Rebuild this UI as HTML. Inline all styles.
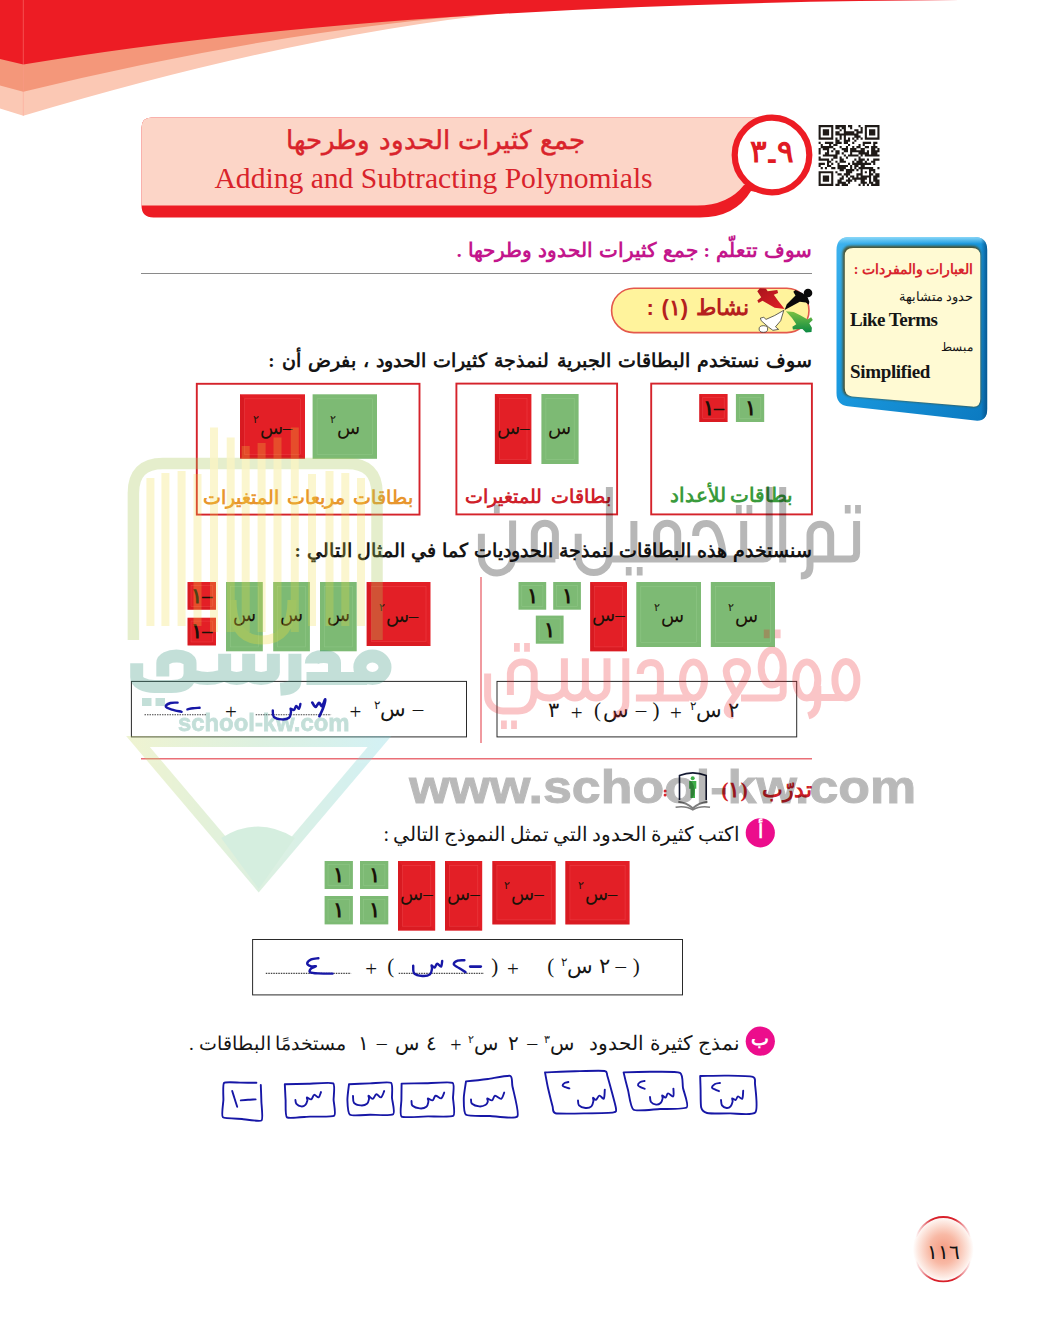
<!DOCTYPE html>
<html lang="ar">
<head>
<meta charset="utf-8">
<title>٩-٣ جمع كثيرات الحدود وطرحها</title>
<style>
html,body{margin:0;padding:0;background:#fff;}
body{width:1039px;height:1323px;overflow:hidden;position:relative;font-family:"Liberation Serif",serif;color:#151515;}
#page{position:absolute;left:0;top:0;width:1039px;height:1323px;overflow:hidden;background:#fff;}
svg.layer{position:absolute;left:0;top:0;width:1039px;height:1323px;overflow:visible;}
.t{position:absolute;white-space:nowrap;line-height:1;direction:rtl;unicode-bidi:isolate;}
.ltr{direction:ltr;}
.b{font-weight:bold;}
.sans{font-family:"Liberation Sans",sans-serif;}
.tl{position:absolute;white-space:nowrap;line-height:1;direction:rtl;text-align:center;font-size:19px;color:#1a1208;}
.tl sup{font-size:11px;vertical-align:baseline;position:relative;top:-11px;margin-right:1px;}
.k{position:absolute;white-space:nowrap;line-height:1;direction:rtl;text-align:center;width:60px;margin-left:-30px;font-size:21px;}
.k sup,.t sup{font-size:55%;vertical-align:baseline;position:relative;top:-0.62em;}
.hw path{fill:none;stroke:#1717a6;stroke-width:1.9;stroke-linecap:round;stroke-linejoin:round;}
</style>
</head>
<body>
<div id="page">

<!-- ===== background graphics ===== -->
<svg class="layer" id="gfx" viewBox="0 0 1039 1323">
  <defs>
    <linearGradient id="bluev" x1="0" y1="0" x2="1" y2="1">
      <stop offset="0" stop-color="#3fb3ee"/><stop offset=".35" stop-color="#1c9de2"/><stop offset="1" stop-color="#0b79c0"/>
    </linearGradient>
    <radialGradient id="pgn" cx=".5" cy=".5" r=".5">
      <stop offset="0" stop-color="#f59c83"/><stop offset=".45" stop-color="#f8b9a5"/><stop offset=".85" stop-color="#fdeae3"/><stop offset="1" stop-color="#ffffff"/>
    </radialGradient>
    <linearGradient id="arcfade" x1="0" y1="0" x2="1" y2="0">
      <stop offset="0" stop-color="#d8202a" stop-opacity="0"/><stop offset=".3" stop-color="#d8202a" stop-opacity="1"/><stop offset=".7" stop-color="#d8202a" stop-opacity="1"/><stop offset="1" stop-color="#d8202a" stop-opacity="0"/>
    </linearGradient>
    <linearGradient id="redfig" x1="0" y1="0" x2="1" y2="1"><stop offset="0" stop-color="#a8141c"/><stop offset="1" stop-color="#e21f26"/></linearGradient>
    <linearGradient id="grnfig" x1="0" y1="0" x2="0" y2="1"><stop offset="0" stop-color="#7cc242"/><stop offset="1" stop-color="#0c8a43"/></linearGradient>
  </defs>
  <!-- top banner -->
  <path d="M0,0 H540 L520,11.5 Q300,33 23.3,115.8 L0,108.5 Z" fill="#fbc8b4"/>
  <path d="M0,0 H520 L510,12.5 Q290,27 23.3,91.7 L0,85.5 Z" fill="#f4977a"/>
  <path d="M0,0 H960 Q390,3 23.3,64.6 L0,59 Z" fill="#ed1c24"/>
  <path d="M23.3,0 V115.8" stroke="#ff9a8e" stroke-width="0.7" opacity="0.6" fill="none"/>

  <!-- title bar -->
  <path d="M151.5,117.5 H772 V195 L751,191 Q735,217.5 700,217.5 H153.5 Q141.5,217.5 141.5,205.5 V127.5 Q141.5,117.5 151.5,117.5 Z" fill="#ed1c24"/>
  <path d="M151.5,117.5 H772 V185 L744,185 Q728,205.5 697,205.5 H141.5 V127.5 Q141.5,117.5 151.5,117.5 Z" fill="#fcd5c7"/>
  <circle cx="772" cy="155" r="37.3" fill="#fff" stroke="#ed1c24" stroke-width="6.2"/>
  <!-- QR code -->
  <path d="M818.6,125.0h14.7v2.15h-14.7zM835.4,125.0h10.5v2.15h-10.5zM848.0,125.0h4.2v2.15h-4.2zM858.5,125.0h2.1v2.15h-2.1zM864.8,125.0h14.7v2.15h-14.7zM818.6,127.1h2.1v2.15h-2.1zM831.2,127.1h2.1v2.15h-2.1zM835.4,127.1h4.2v2.15h-4.2zM841.7,127.1h4.2v2.15h-4.2zM850.1,127.1h2.1v2.15h-2.1zM860.6,127.1h2.1v2.15h-2.1zM864.8,127.1h2.1v2.15h-2.1zM877.4,127.1h2.1v2.15h-2.1zM818.6,129.2h2.1v2.15h-2.1zM822.8,129.2h6.3v2.15h-6.3zM831.2,129.2h2.1v2.15h-2.1zM839.6,129.2h2.1v2.15h-2.1zM843.8,129.2h2.1v2.15h-2.1zM854.3,129.2h4.2v2.15h-4.2zM860.6,129.2h2.1v2.15h-2.1zM864.8,129.2h2.1v2.15h-2.1zM869.0,129.2h6.3v2.15h-6.3zM877.4,129.2h2.1v2.15h-2.1zM818.6,131.3h2.1v2.15h-2.1zM822.8,131.3h6.3v2.15h-6.3zM831.2,131.3h2.1v2.15h-2.1zM835.4,131.3h4.2v2.15h-4.2zM843.8,131.3h10.5v2.15h-10.5zM856.4,131.3h6.3v2.15h-6.3zM864.8,131.3h2.1v2.15h-2.1zM869.0,131.3h6.3v2.15h-6.3zM877.4,131.3h2.1v2.15h-2.1zM818.6,133.4h2.1v2.15h-2.1zM822.8,133.4h6.3v2.15h-6.3zM831.2,133.4h2.1v2.15h-2.1zM835.4,133.4h23.1v2.15h-23.1zM864.8,133.4h2.1v2.15h-2.1zM869.0,133.4h6.3v2.15h-6.3zM877.4,133.4h2.1v2.15h-2.1zM818.6,135.5h2.1v2.15h-2.1zM831.2,135.5h2.1v2.15h-2.1zM839.6,135.5h2.1v2.15h-2.1zM843.8,135.5h2.1v2.15h-2.1zM854.3,135.5h6.3v2.15h-6.3zM864.8,135.5h2.1v2.15h-2.1zM877.4,135.5h2.1v2.15h-2.1zM818.6,137.6h14.7v2.15h-14.7zM835.4,137.6h2.1v2.15h-2.1zM839.6,137.6h2.1v2.15h-2.1zM843.8,137.6h2.1v2.15h-2.1zM848.0,137.6h2.1v2.15h-2.1zM852.2,137.6h2.1v2.15h-2.1zM856.4,137.6h2.1v2.15h-2.1zM860.6,137.6h2.1v2.15h-2.1zM864.8,137.6h14.7v2.15h-14.7zM835.4,139.7h4.2v2.15h-4.2zM843.8,139.7h6.3v2.15h-6.3zM854.3,139.7h2.1v2.15h-2.1zM818.6,141.8h2.1v2.15h-2.1zM824.9,141.8h8.4v2.15h-8.4zM835.4,141.8h6.3v2.15h-6.3zM843.8,141.8h4.2v2.15h-4.2zM852.2,141.8h2.1v2.15h-2.1zM862.7,141.8h8.4v2.15h-8.4zM873.2,141.8h4.2v2.15h-4.2zM820.7,143.9h2.1v2.15h-2.1zM829.1,143.9h2.1v2.15h-2.1zM833.3,143.9h4.2v2.15h-4.2zM848.0,143.9h2.1v2.15h-2.1zM858.5,143.9h2.1v2.15h-2.1zM862.7,143.9h2.1v2.15h-2.1zM873.2,143.9h2.1v2.15h-2.1zM820.7,146.0h12.6v2.15h-12.6zM839.6,146.0h2.1v2.15h-2.1zM845.9,146.0h2.1v2.15h-2.1zM852.2,146.0h2.1v2.15h-2.1zM856.4,146.0h4.2v2.15h-4.2zM864.8,146.0h4.2v2.15h-4.2zM871.1,146.0h6.3v2.15h-6.3zM818.6,148.1h2.1v2.15h-2.1zM822.8,148.1h6.3v2.15h-6.3zM833.3,148.1h2.1v2.15h-2.1zM841.7,148.1h6.3v2.15h-6.3zM850.1,148.1h6.3v2.15h-6.3zM860.6,148.1h4.2v2.15h-4.2zM871.1,148.1h4.2v2.15h-4.2zM877.4,148.1h2.1v2.15h-2.1zM818.6,150.2h2.1v2.15h-2.1zM827.0,150.2h2.1v2.15h-2.1zM831.2,150.2h2.1v2.15h-2.1zM835.4,150.2h4.2v2.15h-4.2zM843.8,150.2h4.2v2.15h-4.2zM850.1,150.2h14.7v2.15h-14.7zM866.9,150.2h2.1v2.15h-2.1zM871.1,150.2h8.4v2.15h-8.4zM818.6,152.3h2.1v2.15h-2.1zM824.9,152.3h4.2v2.15h-4.2zM835.4,152.3h4.2v2.15h-4.2zM841.7,152.3h2.1v2.15h-2.1zM850.1,152.3h2.1v2.15h-2.1zM858.5,152.3h10.5v2.15h-10.5zM871.1,152.3h6.3v2.15h-6.3zM822.8,154.4h14.7v2.15h-14.7zM843.8,154.4h2.1v2.15h-2.1zM848.0,154.4h10.5v2.15h-10.5zM860.6,154.4h2.1v2.15h-2.1zM864.8,154.4h14.7v2.15h-14.7zM818.6,156.5h2.1v2.15h-2.1zM833.3,156.5h4.2v2.15h-4.2zM839.6,156.5h2.1v2.15h-2.1zM845.9,156.5h2.1v2.15h-2.1zM858.5,156.5h2.1v2.15h-2.1zM818.6,158.6h10.5v2.15h-10.5zM831.2,158.6h2.1v2.15h-2.1zM839.6,158.6h4.2v2.15h-4.2zM854.3,158.6h2.1v2.15h-2.1zM858.5,158.6h6.3v2.15h-6.3zM866.9,158.6h2.1v2.15h-2.1zM873.2,158.6h6.3v2.15h-6.3zM827.0,160.7h4.2v2.15h-4.2zM835.4,160.7h2.1v2.15h-2.1zM839.6,160.7h6.3v2.15h-6.3zM852.2,160.7h2.1v2.15h-2.1zM856.4,160.7h6.3v2.15h-6.3zM864.8,160.7h2.1v2.15h-2.1zM871.1,160.7h4.2v2.15h-4.2zM818.6,162.8h6.3v2.15h-6.3zM827.0,162.8h2.1v2.15h-2.1zM831.2,162.8h2.1v2.15h-2.1zM837.5,162.8h2.1v2.15h-2.1zM848.0,162.8h2.1v2.15h-2.1zM852.2,162.8h18.9v2.15h-18.9zM873.2,162.8h2.1v2.15h-2.1zM818.6,164.9h2.1v2.15h-2.1zM827.0,164.9h4.2v2.15h-4.2zM837.5,164.9h10.5v2.15h-10.5zM850.1,164.9h2.1v2.15h-2.1zM854.3,164.9h4.2v2.15h-4.2zM860.6,164.9h4.2v2.15h-4.2zM820.7,167.0h2.1v2.15h-2.1zM824.9,167.0h2.1v2.15h-2.1zM831.2,167.0h4.2v2.15h-4.2zM837.5,167.0h8.4v2.15h-8.4zM850.1,167.0h2.1v2.15h-2.1zM854.3,167.0h2.1v2.15h-2.1zM858.5,167.0h14.7v2.15h-14.7zM877.4,167.0h2.1v2.15h-2.1zM839.6,169.1h4.2v2.15h-4.2zM845.9,169.1h8.4v2.15h-8.4zM856.4,169.1h2.1v2.15h-2.1zM860.6,169.1h2.1v2.15h-2.1zM869.0,169.1h6.3v2.15h-6.3zM818.6,171.2h14.7v2.15h-14.7zM835.4,171.2h2.1v2.15h-2.1zM845.9,171.2h6.3v2.15h-6.3zM860.6,171.2h2.1v2.15h-2.1zM864.8,171.2h2.1v2.15h-2.1zM869.0,171.2h2.1v2.15h-2.1zM873.2,171.2h2.1v2.15h-2.1zM818.6,173.3h2.1v2.15h-2.1zM831.2,173.3h2.1v2.15h-2.1zM837.5,173.3h4.2v2.15h-4.2zM843.8,173.3h6.3v2.15h-6.3zM856.4,173.3h6.3v2.15h-6.3zM869.0,173.3h4.2v2.15h-4.2zM875.3,173.3h4.2v2.15h-4.2zM818.6,175.4h2.1v2.15h-2.1zM822.8,175.4h6.3v2.15h-6.3zM831.2,175.4h2.1v2.15h-2.1zM841.7,175.4h2.1v2.15h-2.1zM845.9,175.4h2.1v2.15h-2.1zM850.1,175.4h4.2v2.15h-4.2zM856.4,175.4h2.1v2.15h-2.1zM860.6,175.4h10.5v2.15h-10.5zM873.2,175.4h6.3v2.15h-6.3zM818.6,177.5h2.1v2.15h-2.1zM822.8,177.5h6.3v2.15h-6.3zM831.2,177.5h2.1v2.15h-2.1zM839.6,177.5h4.2v2.15h-4.2zM848.0,177.5h2.1v2.15h-2.1zM852.2,177.5h14.7v2.15h-14.7zM869.0,177.5h2.1v2.15h-2.1zM873.2,177.5h4.2v2.15h-4.2zM818.6,179.6h2.1v2.15h-2.1zM822.8,179.6h6.3v2.15h-6.3zM831.2,179.6h2.1v2.15h-2.1zM837.5,179.6h4.2v2.15h-4.2zM845.9,179.6h6.3v2.15h-6.3zM854.3,179.6h2.1v2.15h-2.1zM860.6,179.6h4.2v2.15h-4.2zM869.0,179.6h2.1v2.15h-2.1zM873.2,179.6h6.3v2.15h-6.3zM818.6,181.7h2.1v2.15h-2.1zM831.2,181.7h2.1v2.15h-2.1zM837.5,181.7h8.4v2.15h-8.4zM848.0,181.7h2.1v2.15h-2.1zM860.6,181.7h6.3v2.15h-6.3zM869.0,181.7h4.2v2.15h-4.2zM875.3,181.7h4.2v2.15h-4.2zM818.6,183.8h14.7v2.15h-14.7zM835.4,183.8h4.2v2.15h-4.2zM841.7,183.8h6.3v2.15h-6.3zM858.5,183.8h2.1v2.15h-2.1zM862.7,183.8h2.1v2.15h-2.1zM866.9,183.8h2.1v2.15h-2.1zM871.1,183.8h8.4v2.15h-8.4z" fill="#1f1a17"/>
  <!-- rule lines -->
  <path d="M141,273.5 H812" stroke="#8a8a8a" stroke-width="1"/>
  <path d="M141,758.7 H812" stroke="#ea6f77" stroke-width="1.4"/>
  <path d="M481,577 V743" stroke="#ea6f77" stroke-width="1.4"/>
  <!-- vocabulary side box -->
  <defs><filter id="bl1" x="-5%" y="-5%" width="110%" height="110%"><feGaussianBlur stdDeviation="0.9"/></filter>
  <linearGradient id="sbtop" x1="0" y1="0" x2="0" y2="1"><stop offset="0" stop-color="#8fdaf9" stop-opacity=".95"/><stop offset="1" stop-color="#8fdaf9" stop-opacity="0"/></linearGradient>
  <linearGradient id="sbright" x1="0" y1="0" x2="1" y2="0"><stop offset="0" stop-color="#064f85" stop-opacity="0"/><stop offset="1" stop-color="#064f85" stop-opacity=".9"/></linearGradient>
  <clipPath id="sbclip"><path d="M850,237 H974 Q987.2,237 987.2,250 V409 Q987.2,422 975,420.6 L848,406.2 Q836.5,405 836.5,393 V250 Q836.5,237 850,237 Z"/></clipPath></defs>
  <path d="M850,237 H974 Q987.2,237 987.2,250 V409 Q987.2,422 975,420.6 L848,406.2 Q836.5,405 836.5,393 V250 Q836.5,237 850,237 Z" fill="url(#bluev)"/>
  <g clip-path="url(#sbclip)">
    <rect x="836" y="237" width="152" height="7" fill="url(#sbtop)"/>
    <rect x="981" y="237" width="6.5" height="186" fill="url(#sbright)"/>
  </g>
  <path d="M851,245.7 H972 Q980.6,245.7 980.6,254.5 V399 Q980.6,407.8 972,406.8 L850.6,396.6 Q842.6,395.9 842.6,388 V254.5 Q842.6,245.7 851,245.7 Z" fill="#4f4712" opacity=".85" filter="url(#bl1)"/>
  <path d="M853.2,248 H972 Q980.3,248 980.3,256 V399 Q980.3,407.6 972,406.6 L852,396.4 Q844.8,395.7 844.8,388 V256 Q844.8,248 853.2,248 Z" fill="#fffad3"/>
  <!-- activity pill -->
  <rect x="611.6" y="288.2" width="197.4" height="44.4" rx="22.2" fill="#fff39c" stroke="#e4584c" stroke-width="1.6"/>
  <polygon points="784.6,309.0 774.7,307.7 762.5,300.8 758.6,303.0 757.3,300.4 761.2,297.3 757.3,291.3 759.9,288.2 766.0,288.7 767.7,291.3 777.3,290.0 778.1,293.0 773.8,294.7 778.1,300.8" fill="url(#redfig)"/>
  <polygon points="784.6,309.9 786.8,304.3 795.5,295.6 793.3,291.7 795.5,290.0 802.4,293.0 807.6,297.3 809.3,301.7 808.9,304.7 805.9,302.5 799.8,301.7 792.0,306.0" fill="#0a0a0a"/>
  <circle cx="808.0" cy="293.0" r="4.3" fill="#0a0a0a"/>
  <polygon points="785.9,311.2 793.7,312.1 800.7,315.5 807.6,319.4 811.1,317.3 812.8,319.9 809.3,323.3 811.9,327.7 811.5,332.0 805.9,332.4 802.4,329.0 792.9,329.4 792.4,326.8 796.3,324.2 792.0,318.1" fill="url(#grnfig)"/>
  <polygon points="783.8,310.3 780.7,320.7 775.5,326.8 778.6,329.4 772.9,330.3 768.6,327.2 761.2,320.7 760.4,318.1 763.8,317.3 766.0,319.4 774.7,315.5" fill="#fff" stroke="#222" stroke-width=".7"/>
  <ellipse cx="763.4" cy="329.0" rx="4.3" ry="3.3" fill="#fff" stroke="#222" stroke-width=".7"/>
  <!-- card category boxes -->
  <rect x="651.2" y="383.6" width="160.7" height="130.8" fill="none" stroke="#d5232b" stroke-width="1.9"/>
  <rect x="456.4" y="383.6" width="160.7" height="130.8" fill="none" stroke="#d5232b" stroke-width="1.9"/>
  <rect x="196.8" y="383.8" width="222.7" height="130.8" fill="none" stroke="#d5232b" stroke-width="1.9"/>
  <!-- algebra tiles -->
  <rect x="699.3" y="394.0" width="28.3" height="28.0" fill="#e31f26"/><path d="M699.3,394.0 l3.4,3.4 V418.6 l-3.4,3.4 Z" fill="#c9151d" opacity=".45"/><path d="M699.3,422.0 l3.4,-3.4 H724.2 l3.4,3.4 Z" fill="#c9151d" opacity=".35"/><rect x="702.7" y="397.4" width="21.5" height="21.2" fill="none" stroke="#ef4a4f" stroke-width=".6" opacity=".7"/>
  <rect x="735.9" y="394.0" width="28.3" height="28.0" fill="#7dba74"/><rect x="739.3" y="397.4" width="21.5" height="21.2" fill="none" stroke="#93c98a" stroke-width=".6" opacity=".8"/>
  <rect x="494.9" y="394.0" width="36.5" height="70.0" fill="#e31f26"/><path d="M494.9,394.0 l4.4,4.4 V459.6 l-4.4,4.4 Z" fill="#c9151d" opacity=".45"/><path d="M494.9,464.0 l4.4,-4.4 H527.0 l4.4,4.4 Z" fill="#c9151d" opacity=".35"/><rect x="499.3" y="398.4" width="27.7" height="61.2" fill="none" stroke="#ef4a4f" stroke-width=".6" opacity=".7"/>
  <rect x="541.4" y="394.0" width="37.2" height="70.0" fill="#7dba74"/><rect x="545.9" y="398.5" width="28.3" height="61.1" fill="none" stroke="#93c98a" stroke-width=".6" opacity=".8"/>
  <rect x="240.0" y="394.3" width="65.0" height="64.5" fill="#e31f26"/><path d="M240.0,394.3 l4.5,4.5 V454.3 l-4.5,4.5 Z" fill="#c9151d" opacity=".45"/><path d="M240.0,458.8 l4.5,-4.5 H300.5 l4.5,4.5 Z" fill="#c9151d" opacity=".35"/><rect x="244.5" y="398.8" width="56.0" height="55.5" fill="none" stroke="#ef4a4f" stroke-width=".6" opacity=".7"/>
  <rect x="312.6" y="394.3" width="64.4" height="64.5" fill="#7dba74"/><rect x="317.1" y="398.8" width="55.4" height="55.5" fill="none" stroke="#93c98a" stroke-width=".6" opacity=".8"/>
  <rect x="710.8" y="582.0" width="64.2" height="65.0" fill="#7dba74"/><rect x="715.3" y="586.5" width="55.2" height="56.0" fill="none" stroke="#93c98a" stroke-width=".6" opacity=".8"/>
  <rect x="636.3" y="582.0" width="64.7" height="65.0" fill="#7dba74"/><rect x="640.8" y="586.5" width="55.7" height="56.0" fill="none" stroke="#93c98a" stroke-width=".6" opacity=".8"/>
  <rect x="590.2" y="582.0" width="36.8" height="69.3" fill="#e31f26"/><path d="M590.2,582.0 l4.4,4.4 V646.9 l-4.4,4.4 Z" fill="#c9151d" opacity=".45"/><path d="M590.2,651.3 l4.4,-4.4 H622.6 l4.4,4.4 Z" fill="#c9151d" opacity=".35"/><rect x="594.6" y="586.4" width="28.0" height="60.5" fill="none" stroke="#ef4a4f" stroke-width=".6" opacity=".7"/>
  <rect x="553.2" y="582.0" width="27.7" height="27.7" fill="#7dba74"/><rect x="556.5" y="585.3" width="21.1" height="21.1" fill="none" stroke="#93c98a" stroke-width=".6" opacity=".8"/>
  <rect x="518.5" y="582.0" width="27.7" height="27.7" fill="#7dba74"/><rect x="521.8" y="585.3" width="21.1" height="21.1" fill="none" stroke="#93c98a" stroke-width=".6" opacity=".8"/>
  <rect x="535.8" y="615.6" width="27.8" height="28.1" fill="#7dba74"/><rect x="539.1" y="618.9" width="21.1" height="21.4" fill="none" stroke="#93c98a" stroke-width=".6" opacity=".8"/>
  <rect x="366.7" y="582.0" width="63.8" height="64.0" fill="#e31f26"/><path d="M366.7,582.0 l4.5,4.5 V641.5 l-4.5,4.5 Z" fill="#c9151d" opacity=".45"/><path d="M366.7,646.0 l4.5,-4.5 H426.0 l4.5,4.5 Z" fill="#c9151d" opacity=".35"/><rect x="371.2" y="586.5" width="54.8" height="55.0" fill="none" stroke="#ef4a4f" stroke-width=".6" opacity=".7"/>
  <rect x="320.0" y="582.0" width="36.7" height="69.3" fill="#7dba74"/><rect x="324.4" y="586.4" width="27.9" height="60.5" fill="none" stroke="#93c98a" stroke-width=".6" opacity=".8"/>
  <rect x="273.2" y="582.0" width="36.7" height="69.3" fill="#7dba74"/><rect x="277.6" y="586.4" width="27.9" height="60.5" fill="none" stroke="#93c98a" stroke-width=".6" opacity=".8"/>
  <rect x="226.0" y="582.0" width="36.8" height="69.3" fill="#7dba74"/><rect x="230.4" y="586.4" width="28.0" height="60.5" fill="none" stroke="#93c98a" stroke-width=".6" opacity=".8"/>
  <rect x="187.6" y="582.0" width="28.4" height="27.7" fill="#e31f26"/><path d="M187.6,582.0 l3.4,3.4 V606.3 l-3.4,3.4 Z" fill="#c9151d" opacity=".45"/><path d="M187.6,609.7 l3.4,-3.4 H212.6 l3.4,3.4 Z" fill="#c9151d" opacity=".35"/><rect x="191.0" y="585.4" width="21.6" height="20.9" fill="none" stroke="#ef4a4f" stroke-width=".6" opacity=".7"/>
  <rect x="187.6" y="617.7" width="28.4" height="27.7" fill="#e31f26"/><path d="M187.6,617.7 l3.4,3.4 V642.0 l-3.4,3.4 Z" fill="#c9151d" opacity=".45"/><path d="M187.6,645.4 l3.4,-3.4 H212.6 l3.4,3.4 Z" fill="#c9151d" opacity=".35"/><rect x="191.0" y="621.1" width="21.6" height="20.9" fill="none" stroke="#ef4a4f" stroke-width=".6" opacity=".7"/>
  <rect x="565.4" y="861.0" width="64.2" height="63.4" fill="#e31f26"/><path d="M565.4,861.0 l4.5,4.5 V919.9 l-4.5,4.5 Z" fill="#c9151d" opacity=".45"/><path d="M565.4,924.4 l4.5,-4.5 H625.1 l4.5,4.5 Z" fill="#c9151d" opacity=".35"/><rect x="569.9" y="865.5" width="55.2" height="54.4" fill="none" stroke="#ef4a4f" stroke-width=".6" opacity=".7"/>
  <rect x="492.4" y="861.0" width="63.3" height="63.4" fill="#e31f26"/><path d="M492.4,861.0 l4.5,4.5 V919.9 l-4.5,4.5 Z" fill="#c9151d" opacity=".45"/><path d="M492.4,924.4 l4.5,-4.5 H551.2 l4.5,4.5 Z" fill="#c9151d" opacity=".35"/><rect x="496.9" y="865.5" width="54.3" height="54.4" fill="none" stroke="#ef4a4f" stroke-width=".6" opacity=".7"/>
  <rect x="445.0" y="861.0" width="37.2" height="69.6" fill="#e31f26"/><path d="M445.0,861.0 l4.5,4.5 V926.1 l-4.5,4.5 Z" fill="#c9151d" opacity=".45"/><path d="M445.0,930.6 l4.5,-4.5 H477.7 l4.5,4.5 Z" fill="#c9151d" opacity=".35"/><rect x="449.5" y="865.5" width="28.3" height="60.7" fill="none" stroke="#ef4a4f" stroke-width=".6" opacity=".7"/>
  <rect x="398.0" y="861.0" width="37.2" height="69.6" fill="#e31f26"/><path d="M398.0,861.0 l4.5,4.5 V926.1 l-4.5,4.5 Z" fill="#c9151d" opacity=".45"/><path d="M398.0,930.6 l4.5,-4.5 H430.7 l4.5,4.5 Z" fill="#c9151d" opacity=".35"/><rect x="402.5" y="865.5" width="28.3" height="60.7" fill="none" stroke="#ef4a4f" stroke-width=".6" opacity=".7"/>
  <rect x="360.0" y="861.0" width="28.3" height="28.0" fill="#7dba74"/><rect x="363.4" y="864.4" width="21.5" height="21.2" fill="none" stroke="#93c98a" stroke-width=".6" opacity=".8"/>
  <rect x="324.6" y="861.0" width="28.3" height="28.0" fill="#7dba74"/><rect x="328.0" y="864.4" width="21.5" height="21.2" fill="none" stroke="#93c98a" stroke-width=".6" opacity=".8"/>
  <rect x="360.0" y="896.0" width="28.3" height="28.4" fill="#7dba74"/><rect x="363.4" y="899.4" width="21.5" height="21.6" fill="none" stroke="#93c98a" stroke-width=".6" opacity=".8"/>
  <rect x="324.6" y="896.0" width="28.3" height="28.4" fill="#7dba74"/><rect x="328.0" y="899.4" width="21.5" height="21.6" fill="none" stroke="#93c98a" stroke-width=".6" opacity=".8"/>
  <!-- equation boxes -->
  <rect x="497" y="681.4" width="299.7" height="55.5" fill="none" stroke="#2a2a2a" stroke-width="1"/>
  <rect x="131.4" y="681.4" width="335.1" height="55.5" fill="none" stroke="#2a2a2a" stroke-width="1"/>
  <rect x="252.6" y="939.5" width="429.9" height="55.4" fill="none" stroke="#2a2a2a" stroke-width="1"/>
  <!-- dotted answer lines -->
  <path d="M255.7,714.7 H331.1" stroke="#444" stroke-width="1.1" stroke-dasharray="1.5 1"/>
  <path d="M144.5,714.7 H206.8" stroke="#444" stroke-width="1.1" stroke-dasharray="1.5 1"/>
  <path d="M398.7,973.4 H484" stroke="#444" stroke-width="1.1" stroke-dasharray="1.5 1"/>
  <path d="M265.8,973.4 H351.1" stroke="#444" stroke-width="1.1" stroke-dasharray="1.5 1"/>
  <!-- bullets -->
  <circle cx="760.3" cy="832.8" r="14.6" fill="#ec0d8c"/>
  <circle cx="760.3" cy="1041.2" r="14.6" fill="#ec0d8c"/>
  <!-- practice icon -->
  <path d="M679.5,800 V775.6 Q692.8,770.2 706.2,775.6 V800" fill="#fff" stroke="#141a33" stroke-width="1.6"/>
  <path d="M678.3,801.8 Q687,803 692.8,808.2 Q698.6,803 707.5,801.8" fill="none" stroke="#7d7d7d" stroke-width="1.9"/>
  <path d="M675.6,807.2 Q686,805.6 692.8,809.8 Q699.6,805.6 710,807.2" fill="none" stroke="#7d7d7d" stroke-width="1.6"/>
  <circle cx="692.7" cy="778.2" r="2" fill="#3fae49"/>
  <path d="M689.2,781 H696.3 V788.8 H695 V798 H690.5 V788.8 H689.2 Z" fill="#3fae49"/>
  <circle cx="665.1" cy="791" r="1.5" fill="#d8252d"/><circle cx="665.1" cy="795" r="1.5" fill="#d8252d"/>
  <!-- page number -->
  <ellipse cx="943.3" cy="1249.2" rx="30.5" ry="32.6" fill="url(#pgn)"/>
  <path d="M916,1237 A29.6,32.6 0 0 1 970.6,1237" fill="none" stroke="url(#arcfade)" stroke-width="1.8"/>
  <path d="M916,1261.4 A29.6,32.6 0 0 0 970.6,1261.4" fill="none" stroke="url(#arcfade)" stroke-width="1.8"/>
</svg>
<!-- ===== header text ===== -->
<div class="t sans" id="ttl-ar" style="right:454px;top:127.3px;font-size:26px;word-spacing:1.5px;color:#d9232b;-webkit-text-stroke:0.5px #d9232b;">جمع كثيرات الحدود وطرحها</div>
<div class="t ltr" id="ttl-en" style="left:214.5px;top:163.9px;font-size:29.6px;color:#d9232b;">Adding and Subtracting Polynomials</div>
<div class="t sans b ltr" id="secno" style="left:742px;top:136px;width:60px;text-align:center;font-size:31px;color:#e01b24;unicode-bidi:bidi-override;">٣<span style="position:relative;top:7px;">-</span>٩</div>

<div class="t b" id="learn" style="right:227px;top:240.6px;font-size:19.5px;word-spacing:1.1px;color:#c3168c;">سوف تتعلّم : جمع كثيرات الحدود وطرحها .</div>

<div class="t sans b" id="act" style="right:290.4px;top:297.4px;font-size:22px;color:#b5201e;word-spacing:1.4px;">نشاط (١) :</div>

<div class="t b" id="p1" style="right:227px;top:351.4px;font-size:19px;word-spacing:2.4px;">سوف نستخدم البطاقات الجبرية لنمذجة كثيرات الحدود ، بفرض أن :</div>

<!-- card category labels -->
<div class="t b" id="lb1" style="right:246.3px;top:484.8px;font-size:20px;color:#3a9b3c;word-spacing:-1.5px;">بطاقات للأعداد</div>
<div class="t b" id="lb2" style="right:427.7px;top:486.6px;font-size:19px;color:#cf202a;word-spacing:4.3px;">بطاقات للمتغيرات</div>
<div class="t b" id="lb3" style="right:626.3px;top:487.6px;font-size:19px;color:#e8962e;word-spacing:3.1px;">بطاقات مربعات المتغيرات</div>

<div class="t b" id="p2" style="right:227px;top:540.9px;font-size:19px;word-spacing:1.05px;">سنستخدم هذه البطاقات لنمذجة الحدوديات كما في المثال التالي :</div>

<!-- vocabulary box text -->
<div class="t b" id="sb0" style="right:65.6px;top:263px;font-size:14px;color:#d8252d;">العبارات والمفردات :</div>
<div class="t" id="sb1" style="right:65.6px;top:290px;font-size:13px;">حدود متشابهة</div>
<div class="t ltr b" id="sb2" style="left:850px;top:309.6px;font-size:19px;letter-spacing:-0.5px;">Like Terms</div>
<div class="t" id="sb3" style="right:65.6px;top:341px;font-size:12px;">مبسط</div>
<div class="t ltr b" id="sb4" style="left:850px;top:361.5px;font-size:19px;letter-spacing:-0.33px;">Simplified</div>

<!-- practice heading -->
<div class="t b" id="prac" style="right:226.7px;top:778.6px;font-size:22px;color:#cf1f28;word-spacing:9px;">تدرّب (١)</div>
<div class="t sans b" id="bulA" style="left:745.3px;top:822px;width:30px;text-align:center;font-size:19px;color:#fff;">أ</div>
<div class="t" id="qa" style="right:299px;top:824.4px;font-size:20px;word-spacing:-1px;">اكتب كثيرة الحدود التي تمثل النموذج التالي :</div>
<div class="t sans b" id="bulB" style="left:745.3px;top:1029px;width:30px;text-align:center;font-size:19px;color:#fff;">ب</div>
<div class="t" id="qb" style="right:298.8px;top:1033.1px;font-size:20px;word-spacing:0.5px;">نمذج كثيرة الحدود</div>
<div class="k" style="left:559.3px;top:1033.1px;font-size:20px;">س<sup>٣</sup></div>
<div class="k" style="left:532.3px;top:1033.1px;font-size:20px;">–</div>
<div class="k" style="left:513.2px;top:1033.1px;font-size:20px;">٢</div>
<div class="k" style="left:483.3px;top:1033.1px;font-size:20px;">س<sup>٢</sup></div>
<div class="k" style="left:456px;top:1034.8px;font-size:20px;">+</div>
<div class="k" style="left:431.2px;top:1033.1px;font-size:20px;">٤</div>
<div class="k" style="left:406.8px;top:1033.1px;font-size:20px;">س</div>
<div class="k" style="left:381.7px;top:1033.1px;font-size:20px;">–</div>
<div class="k" style="left:363.2px;top:1033.1px;font-size:20px;">١</div>
<div class="t" id="qb2" style="right:692.7px;top:1034px;font-size:19px;">مستخدمًا البطاقات .</div>

<div class="t" id="pgno" style="left:913.7px;top:1242.2px;width:59.2px;text-align:center;font-size:20px;color:#111;">١١٦</div>

<!-- algebra tile labels -->
<div class="tl b" style="left:699.3px;top:397.8px;width:28.3px;font-size:21px;">–١</div>
<div class="tl b" style="left:735.9px;top:397.8px;width:28.3px;font-size:21px;">١</div>
<div class="tl" style="left:494.9px;top:417.6px;width:36.5px;font-size:19px;">–س</div>
<div class="tl" style="left:541.4px;top:417.6px;width:37.2px;font-size:19px;">س</div>
<div class="tl" style="left:240.0px;top:418.1px;width:65.0px;font-size:19px;">–س<sup>٢</sup></div>
<div class="tl" style="left:312.6px;top:418.1px;width:64.4px;font-size:19px;">س<sup>٢</sup></div>
<div class="tl" style="left:710.8px;top:606.0px;width:64.2px;font-size:19px;">س<sup>٢</sup></div>
<div class="tl" style="left:636.3px;top:606.0px;width:64.7px;font-size:19px;">س<sup>٢</sup></div>
<div class="tl" style="left:590.2px;top:605.2px;width:36.8px;font-size:19px;">–س</div>
<div class="tl b" style="left:553.2px;top:585.6px;width:27.7px;font-size:21px;">١</div>
<div class="tl b" style="left:518.5px;top:585.6px;width:27.7px;font-size:21px;">١</div>
<div class="tl b" style="left:535.8px;top:619.5px;width:27.8px;font-size:21px;">١</div>
<div class="tl" style="left:366.7px;top:605.5px;width:63.8px;font-size:19px;">–س<sup>٢</sup></div>
<div class="tl" style="left:320.0px;top:605.2px;width:36.7px;font-size:19px;">س</div>
<div class="tl" style="left:273.2px;top:605.2px;width:36.7px;font-size:19px;">س</div>
<div class="tl" style="left:226.0px;top:605.2px;width:36.8px;font-size:19px;">س</div>
<div class="tl b" style="left:187.6px;top:585.6px;width:28.4px;font-size:21px;">–١</div>
<div class="tl b" style="left:187.6px;top:621.3px;width:28.4px;font-size:21px;">–١</div>
<div class="tl" style="left:565.4px;top:884.2px;width:64.2px;font-size:19px;">–س<sup>٢</sup></div>
<div class="tl" style="left:492.4px;top:884.2px;width:63.3px;font-size:19px;">–س<sup>٢</sup></div>
<div class="tl" style="left:445.0px;top:884.4px;width:37.2px;font-size:19px;">–س</div>
<div class="tl" style="left:398.0px;top:884.4px;width:37.2px;font-size:19px;">–س</div>
<div class="tl b" style="left:360.0px;top:864.8px;width:28.3px;font-size:21px;">١</div>
<div class="tl b" style="left:324.6px;top:864.8px;width:28.3px;font-size:21px;">١</div>
<div class="tl b" style="left:360.0px;top:900.0px;width:28.3px;font-size:21px;">١</div>
<div class="tl b" style="left:324.6px;top:900.0px;width:28.3px;font-size:21px;">١</div>

<!-- example equation (right): 2x^2 + (-x) + 3 -->
<div class="k" style="left:733.5px;top:699.7px;font-size:21px;">٢</div>
<div class="k" style="left:706.4px;top:699.7px;font-size:21px;">س<sup>٢</sup></div>
<div class="k" style="left:676.0px;top:702.7px;font-size:21px;">+</div>
<div class="k" style="left:656.0px;top:699.7px;font-size:21px;">(</div>
<div class="k" style="left:640.9px;top:699.7px;font-size:21px;">–</div>
<div class="k" style="left:616.3px;top:699.7px;font-size:21px;">س</div>
<div class="k" style="left:597.5px;top:699.7px;font-size:21px;">)</div>
<div class="k" style="left:576.7px;top:702.7px;font-size:21px;">+</div>
<div class="k" style="left:553.9px;top:699.7px;font-size:21px;">٣</div>

<!-- example equation (left): -x^2 + ... + ... -->
<div class="k" style="left:418.0px;top:699.4px;font-size:21px;">–</div>
<div class="k" style="left:390.3px;top:699.4px;font-size:21px;">س<sup>٢</sup></div>
<div class="k" style="left:355.4px;top:702.4px;font-size:21px;">+</div>
<div class="k" style="left:231.0px;top:702.4px;font-size:21px;">+</div>

<!-- practice equation: (-2x^2) + (...) + ... -->
<div class="k" style="left:636.3px;top:955.7px;font-size:21px;">(</div>
<div class="k" style="left:620.7px;top:955.7px;font-size:21px;">–</div>
<div class="k" style="left:604.0px;top:955.7px;font-size:21px;">٢</div>
<div class="k" style="left:576.8px;top:955.7px;font-size:21px;">س<sup>٢</sup></div>
<div class="k" style="left:550.8px;top:955.7px;font-size:21px;">)</div>
<div class="k" style="left:512.9px;top:958.7px;font-size:21px;">+</div>
<div class="k" style="left:494.7px;top:955.7px;font-size:21px;">(</div>
<div class="k" style="left:390.7px;top:955.7px;font-size:21px;">)</div>
<div class="k" style="left:371.2px;top:958.7px;font-size:21px;">+</div>

<!-- ===== watermarks (semi-transparent, above content) ===== -->
<svg class="layer" id="wm" viewBox="0 0 1039 1323">
  <!-- pale school logo watermark (left) -->
  <g opacity=".3" fill="none">
    <path d="M133.4,640 V493 Q133.4,463.5 163,463.5 H347 Q377,463.5 377,493 V640" stroke="#aac85a" stroke-width="11.5"/>
    <path d="M150.4,478.0V626M165.4,473.0V626M181.6,471.0V626M197.5,474.0V626M214.0,427.5V632M230.7,437.5V632M245.7,446.0V632M261.6,443.0V632M277.5,437.5V632M294.8,427.5V632M312.0,474.0V626M329.5,471.0V626M345.3,473.0V626M361.0,478.0V626" stroke="#f0dc3c" stroke-width="8" opacity=".8"/>
    <path d="M232,600 Q232,640 262,640 Q292,640 292,600" stroke="#f0dc3c" stroke-width="9"/>
  </g>
  <g opacity=".3" fill="#3c9682" style="font-family:'Liberation Sans',sans-serif;font-weight:bold">
    <path transform="matrix(1.1448,0,0,0.62,-421.5,245.65)" vector-effect="non-scaling-stroke" fill="none" stroke="#3c9682" stroke-width="13" stroke-linejoin="round" d="M682.5,680 A11,18 0 1 0 704.5,680 A11,18 0 1 0 682.5,680Z M689,698 H654 M640.2,674 C640.2,666 645,662.6 651,662.6 C657,662.6 660.4,667 660.4,673 V692 Q660.4,698 654.4,698 H635.9 M625.8,658.3 V702 Q625.8,714 613,715.5 M607,658.3 V688 A10.8,10 0 0 1 585.4,688 V658.3 M585.4,688 A10.5,10 0 0 1 564.4,688 V658.3 M564.4,688 A15.1,10 0 0 1 534.2,688 M534.2,692 V673 A11.9,11 0 0 0 510.4,673 V695 M534.2,690 C534.2,705 528,711 518,711 H503 A15.4,15 0 0 1 487.6,696 V673.4"/>
    <path d="M142,698h9.5v8h-9.5zM155.5,698h9.5v8h-9.5z"/>
    <text x="178" y="731" font-size="24" textLength="171.5" lengthAdjust="spacingAndGlyphs" stroke="#3c9682" stroke-width=".8">school-kw.com</text>
  </g>
  <defs><linearGradient id="trg" x1="0" y1="0" x2="1" y2="0"><stop offset="0" stop-color="#c6d86a"/><stop offset=".5" stop-color="#8fd09a"/><stop offset="1" stop-color="#6fd0d8"/></linearGradient></defs>
  <g opacity=".3">
    <path d="M138,741.5 H379.5 L258.7,884 Z" fill="none" stroke="url(#trg)" stroke-width="11" stroke-linejoin="miter"/>
    <path d="M221.2,838 Q258,815 294.8,838 L258.7,889 Z" fill="#78c896"/>
  </g>
  <!-- download watermark: gray line -->
  <g opacity=".28">
    <path d="M856.6,521 V553 Q856.6,559 850.6,559 H810 M830.7,559 V534.7 A10.35,10.35 0 0 0 810,534.7 V566 Q810,576 800.8,576 M782.7,487 V562.4 M769.2,487 V553 Q769.2,559 763.2,559 H609.4 M743.7,521 V559 M695.6,536 C695.6,527 700,523.6 706.6,523.6 C716,523.6 719,534 721.8,545.6 L724,559 M677.7,559 V533.7 A10.55,10.55 0 0 0 656.6,533.7 V559 M633.9,521 V559 M609.4,487 V557 A15.6,15.6 0 0 1 578.2,557 V533.7 M555.4,559 V533.7 A10.55,10.55 0 0 0 534.3,533.7 V559 M555.4,559 H512.6 M512.6,520.4 V557.4 A15.6,15.6 0 0 1 481.4,557.4 V533.7" fill="none" stroke="#000" stroke-width="7" stroke-linejoin="round"/>
    <path d="M844.8,505.0h5.8v8.6h-5.8zM855.1,505.0h5.8v8.6h-5.8zM735.9,505.1h5.8v8.6h-5.8zM746.5,505.1h5.8v8.6h-5.8zM625.8,566.9h5.8v8.6h-5.8zM636.8,566.9h5.8v8.6h-5.8zM493.9,504.6h5.8v8.6h-5.8z" fill="#000"/>
  </g>
  <!-- download watermark: pink line -->
  <g opacity=".25">
    <path d="M834.9,679.7 A11,18.2 0 1 0 856.9,679.7 A11,18.2 0 1 0 834.9,679.7Z M841,697.6 H812 M795.8,680.0 A11,18 0 1 0 817.8,680.0 A11,18 0 1 0 795.8,680.0Z M817.8,686 V700 Q817.8,713 808.3,715.9 M761.2,667.6 A11,17.5 0 1 0 783.2,667.6 A11,17.5 0 1 0 761.2,667.6Z M783.2,667.6 V692 Q783.2,698 777.2,698 H741 M736,695 C728,681 726.2,676 726.2,671 A10.7,9.5 0 0 1 747.6,671 C747.6,676 744,682 736,695 C730,703 726,708 727.5,712 Q729,715 733.5,715.5 M682.5,680.0 A11,18 0 1 0 704.5,680.0 A11,18 0 1 0 682.5,680.0Z M689,698 H654 M640.2,674 C640.2,666 645,662.6 651,662.6 C657,662.6 660.4,667 660.4,673 V692 Q660.4,698 654.4,698 H635.9 M625.8,658.3 V702 Q625.8,714 613,715.5 M607,658.3 V688 A10.8,10 0 0 1 585.4,688 V658.3 M585.4,688 A10.5,10 0 0 1 564.4,688 V658.3 M564.4,688 A15.1,10 0 0 1 534.2,688 M534.2,692 V673 A11.9,11 0 0 0 510.4,673 V695 M534.2,690 C534.2,705 528,711 518,711 H503 A15.4,15 0 0 1 487.6,696 V673.4" fill="none" stroke="#ed1c24" stroke-width="7" stroke-linejoin="round"/>
    <path d="M763.8,629.6h5.8v8.6h-5.8zM774.8,629.6h5.8v8.6h-5.8zM514.0,643.1h5.8v8.6h-5.8zM524.1,643.1h5.8v8.6h-5.8zM501.0,720.4h5.8v8.6h-5.8zM511.1,720.4h5.8v8.6h-5.8z" fill="#ed1c24"/>
  </g>
  <!-- download watermark: url -->
  <text x="409.2" y="803.4" font-size="46" textLength="507" lengthAdjust="spacingAndGlyphs" fill="#000" stroke="#000" stroke-width="1.0" opacity=".27" style="font-family:'Liberation Sans',sans-serif;font-weight:bold">www.school-kw.com</text>
</svg>

<!-- ===== blue pen handwriting ===== -->
<svg class="layer hw" id="ink" viewBox="0 0 1039 1323">
  <!-- left example answers: 3x and -2 -->
  <path d="M312.3,702.6 C312.9,703.3 314.5,707.0 315.6,707.0 C316.7,707.0 317.9,703.0 319.0,702.8 C320.1,702.6 321.0,706.6 322.0,706.0 C323.0,705.4 325.0,699.0 325.2,699.4 C325.4,699.8 324.0,705.6 323.0,708.4 C322.0,711.2 320.0,714.9 319.4,716.2" style="stroke-width:2.7"/>
  <path d="M300.4,704.0 C300.2,704.8 299.7,708.5 299.0,708.8 C298.3,709.1 297.0,705.8 296.2,706.0 C295.4,706.2 294.9,709.6 294.0,710.0 C293.1,710.4 291.1,708.3 290.6,708.6 C290.1,708.9 291.3,710.3 291.0,711.8 C290.7,713.3 290.6,716.5 289.0,717.8 C287.4,719.1 284.2,719.6 281.7,719.4 C279.2,719.2 275.3,718.3 273.8,716.8 C272.3,715.3 273.0,711.5 272.8,710.4" style="stroke-width:2.4"/>
  <path d="M177.6,702.6 C176.4,702.7 172.4,702.3 170.4,703.0 C168.4,703.7 165.5,705.5 165.8,706.6 C166.1,707.7 169.4,708.7 172.0,709.6 C174.6,710.5 180.0,711.4 181.6,711.8" style="stroke-width:2.4"/>
  <path d="M187.4,709.4 C188.3,709.2 191.0,708.5 193.0,708.2 C195.0,707.9 198.5,707.9 199.6,707.8" style="stroke-width:2.4"/>
  <!-- practice answers: -2x and 4 -->
  <path d="M470.2,966.6 C472.0,966.6 479.0,966.6 480.8,966.6" style="stroke-width:2.6"/>
  <path d="M464.4,960.2 C463.3,960.3 459.4,959.9 457.6,960.6 C455.8,961.3 453.6,963.0 453.8,964.2 C454.0,965.4 457.0,966.7 459.0,968.0 C461.0,969.3 464.5,971.5 465.6,972.2" style="stroke-width:2.4"/>
  <path d="M442.2,961.0 C442.0,961.9 441.8,966.2 441.0,966.6 C440.2,967.0 438.3,963.4 437.2,963.6 C436.1,963.8 435.5,967.3 434.6,967.6 C433.7,967.9 432.0,965.2 431.6,965.4 C431.2,965.6 432.3,967.1 432.0,968.6 C431.7,970.1 431.6,973.2 430.0,974.4 C428.4,975.6 425.0,976.2 422.4,976.0 C419.8,975.8 415.7,975.1 414.2,973.4 C412.7,971.7 413.4,966.9 413.2,965.6" style="stroke-width:2.4"/>
  <path d="M318.4,958.2 C317.2,958.4 313.1,958.5 311.2,959.4 C309.3,960.3 307.2,962.4 307.2,963.6 C307.2,964.8 309.7,966.0 311.2,966.4 C312.7,966.8 316.0,965.8 316.0,966.2 C316.0,966.6 312.0,967.6 311.0,968.6 C310.0,969.6 308.8,971.4 310.0,972.2 C311.2,973.0 314.2,973.2 318.0,973.4 C321.8,973.6 330.2,973.6 332.6,973.6" style="stroke-width:2.4"/>
  <!-- hand-drawn cards for x^3 - 2x^2 + 4x - 1 -->
  <path d="M700.2,1076.0 C703.2,1076.0 719.9,1075.5 726.0,1075.6 C732.1,1075.7 749.4,1075.8 752.8,1076.8 C756.2,1077.8 754.7,1079.8 755.0,1084.0 C755.3,1088.2 758.3,1109.0 755.4,1112.4 C752.5,1115.8 735.6,1113.3 730.0,1113.4 C724.4,1113.5 710.4,1113.7 707.0,1113.0 C703.6,1112.3 701.9,1110.3 701.2,1107.6 C700.5,1104.9 700.7,1093.7 700.6,1090.0 C700.5,1086.3 700.2,1077.6 700.2,1076.0"/>
  <path d="M743.2,1090.8 C743.0,1092.1 743.1,1097.9 742.2,1098.8 C741.3,1099.7 739.1,1096.2 738.0,1096.4 C736.9,1096.6 736.6,1099.7 735.6,1100.0 C734.6,1100.3 732.7,1098.1 732.2,1098.4 C731.7,1098.7 732.9,1100.3 732.6,1101.6 C732.3,1102.9 731.6,1105.3 730.6,1106.4 C729.6,1107.5 728.0,1108.2 726.6,1108.0 C725.2,1107.8 722.9,1106.7 722.0,1105.4 C721.1,1104.1 721.2,1100.9 721.0,1100.0"/>
  <path d="M720.0,1083.0 C719.2,1083.2 716.3,1083.2 715.0,1084.0 C713.7,1084.8 711.9,1086.7 712.0,1087.6 C712.1,1088.5 714.2,1089.0 715.4,1089.6 C716.6,1090.2 718.4,1090.9 719.0,1091.2"/>
  <path d="M623.6,1072.4 C626.2,1072.3 644.4,1071.8 650.0,1071.8 C655.6,1071.8 676.7,1071.2 680.0,1072.8 C683.3,1074.4 682.3,1084.5 683.0,1088.0 C683.7,1091.5 689.1,1105.3 686.8,1107.4 C684.5,1109.5 665.3,1108.8 660.0,1109.0 C654.7,1109.2 636.8,1111.7 633.6,1109.8 C630.4,1107.9 629.0,1093.7 628.0,1090.0 C627.0,1086.3 624.0,1074.2 623.6,1072.4"/>
  <path d="M673.4,1088.6 C673.4,1089.9 674.1,1095.6 673.2,1096.4 C672.3,1097.2 669.3,1093.2 668.0,1093.4 C666.7,1093.6 666.6,1097.3 665.6,1097.6 C664.6,1097.9 662.7,1095.2 662.2,1095.4 C661.7,1095.6 662.9,1097.3 662.6,1098.6 C662.3,1099.9 661.7,1102.0 660.6,1103.0 C659.5,1104.0 657.7,1104.8 656.1,1104.6 C654.5,1104.4 652.0,1103.3 651.0,1102.0 C650.0,1100.7 650.2,1097.8 650.0,1097.0"/>
  <path d="M644.6,1081.0 C643.8,1081.2 641.1,1081.5 640.0,1082.2 C638.9,1082.9 637.8,1084.5 638.0,1085.4 C638.2,1086.3 639.9,1086.8 641.0,1087.4 C642.1,1088.0 644.2,1088.6 644.8,1088.8"/>
  <path d="M545.0,1072.4 C548.0,1072.3 569.0,1071.3 575.0,1071.2 C581.0,1071.1 601.4,1070.5 604.6,1071.0 C607.8,1071.5 606.3,1072.4 607.4,1076.0 C608.5,1079.6 615.2,1103.8 615.8,1107.4 C616.4,1111.0 616.7,1111.8 613.6,1112.4 C610.5,1113.0 590.8,1113.3 585.0,1113.4 C579.2,1113.5 558.6,1113.9 555.4,1113.2 C552.2,1112.5 553.3,1108.9 552.6,1106.4 C551.9,1103.9 548.8,1091.4 548.0,1088.0 C547.2,1084.6 545.3,1074.0 545.0,1072.4"/>
  <path d="M604.8,1089.6 C604.6,1091.1 604.7,1097.6 603.8,1098.6 C602.9,1099.6 600.7,1095.4 599.4,1095.6 C598.1,1095.8 597.1,1099.4 596.0,1099.8 C594.9,1100.2 593.4,1097.6 593.0,1097.8 C592.6,1098.0 593.7,1099.6 593.4,1101.0 C593.1,1102.4 592.7,1105.2 591.4,1106.4 C590.1,1107.6 587.6,1108.2 585.5,1108.0 C583.4,1107.8 580.2,1106.7 579.0,1105.4 C577.8,1104.1 578.2,1101.2 578.0,1100.4"/>
  <path d="M568.4,1082.0 C567.8,1082.2 565.6,1082.4 564.6,1083.0 C563.6,1083.6 562.5,1084.9 562.6,1085.6 C562.7,1086.3 564.3,1086.7 565.4,1087.2 C566.5,1087.7 568.7,1088.2 569.4,1088.4"/>
  <path d="M466.0,1081.4 C468.2,1081.2 483.6,1079.6 488.0,1079.0 C492.4,1078.4 507.8,1075.1 510.2,1075.8 C512.6,1076.5 511.7,1081.9 512.4,1086.0 C513.1,1090.1 519.6,1113.4 517.4,1116.4 C515.2,1119.4 495.1,1116.2 490.0,1116.0 C484.9,1115.8 468.6,1116.6 466.0,1114.8 C463.4,1113.0 463.8,1101.3 463.8,1098.0 C463.8,1094.7 465.8,1083.1 466.0,1081.4"/>
  <path d="M504.2,1092.6 C503.7,1093.6 502.7,1098.3 501.2,1098.8 C499.7,1099.3 496.5,1095.5 495.0,1095.8 C493.5,1096.1 493.3,1100.0 492.0,1100.4 C490.7,1100.8 488.1,1098.2 487.4,1098.4 C486.7,1098.6 488.1,1100.5 487.8,1101.6 C487.5,1102.7 487.2,1104.0 485.8,1104.8 C484.4,1105.6 481.5,1106.6 479.2,1106.4 C476.9,1106.2 473.4,1105.0 472.0,1103.8 C470.6,1102.6 471.2,1100.1 471.0,1099.4"/>
  <path d="M401.6,1083.6 C403.6,1083.6 421.8,1083.3 426.0,1083.2 C430.2,1083.1 450.4,1081.6 452.6,1082.8 C454.9,1084.0 452.9,1095.2 453.0,1098.0 C453.1,1100.8 455.5,1114.3 453.4,1115.8 C451.3,1117.3 432.3,1116.3 428.0,1116.4 C423.7,1116.5 403.8,1118.0 401.6,1116.6 C399.4,1115.2 401.4,1102.8 401.4,1100.0 C401.4,1097.2 401.6,1085.0 401.6,1083.6"/>
  <path d="M444.2,1092.6 C443.7,1093.6 442.6,1097.9 441.2,1098.4 C439.8,1098.9 437.0,1095.5 435.6,1095.8 C434.2,1096.1 433.9,1100.0 432.6,1100.4 C431.3,1100.8 428.7,1098.2 428.0,1098.4 C427.3,1098.6 428.7,1100.2 428.4,1101.6 C428.1,1103.0 427.8,1105.7 426.4,1106.8 C425.0,1107.9 422.1,1108.6 419.8,1108.4 C417.4,1108.2 413.9,1107.0 412.5,1105.8 C411.1,1104.6 411.7,1101.8 411.5,1101.0"/>
  <path d="M349.0,1084.2 C351.1,1084.1 365.8,1083.5 370.0,1083.4 C374.2,1083.3 388.8,1081.3 391.0,1082.8 C393.2,1084.3 391.8,1094.9 392.0,1098.0 C392.2,1101.1 395.4,1112.5 393.2,1114.2 C391.0,1115.9 374.3,1114.7 370.0,1114.8 C365.7,1114.9 352.3,1116.3 350.0,1114.8 C347.7,1113.3 347.5,1103.1 347.4,1100.0 C347.3,1096.9 348.8,1085.8 349.0,1084.2"/>
  <path d="M384.2,1091.0 C383.7,1092.1 382.3,1096.9 381.0,1097.4 C379.7,1097.9 377.8,1094.0 376.4,1094.2 C375.0,1094.4 374.1,1098.5 372.8,1098.8 C371.5,1099.1 369.2,1095.8 368.6,1095.8 C368.0,1095.8 369.3,1097.7 369.0,1099.0 C368.7,1100.3 368.4,1102.7 367.0,1103.8 C365.6,1104.9 363.0,1105.6 360.8,1105.4 C358.6,1105.2 355.3,1104.4 354.0,1102.8 C352.7,1101.2 353.2,1097.1 353.0,1096.0"/>
  <path d="M284.8,1084.2 C286.7,1084.2 304.0,1083.9 308.0,1083.8 C312.0,1083.7 331.1,1082.1 333.2,1083.4 C335.3,1084.8 333.5,1097.3 333.6,1100.0 C333.7,1102.7 336.2,1114.4 334.2,1115.8 C332.2,1117.2 313.9,1116.5 310.0,1116.6 C306.1,1116.7 289.0,1118.8 287.0,1117.4 C285.0,1116.0 285.8,1102.8 285.6,1100.0 C285.4,1097.2 284.9,1085.5 284.8,1084.2"/>
  <path d="M321.0,1092.0 C320.6,1092.9 319.7,1096.9 318.6,1097.4 C317.5,1097.9 315.4,1094.5 314.2,1094.8 C313.0,1095.1 312.4,1099.0 311.2,1099.4 C310.0,1099.8 307.6,1097.2 307.0,1097.4 C306.4,1097.6 307.7,1099.4 307.4,1100.6 C307.1,1101.8 306.4,1103.8 305.4,1104.8 C304.4,1105.8 302.7,1106.6 301.2,1106.4 C299.7,1106.2 297.4,1104.9 296.4,1103.8 C295.4,1102.7 295.6,1100.6 295.4,1100.0"/>
  <path d="M256.4,1082.8 C255.0,1082.8 242.7,1082.6 240.0,1082.6 C237.3,1082.6 225.4,1081.5 224.0,1083.0 C222.6,1084.5 223.5,1097.2 223.4,1100.0 C223.3,1102.8 221.2,1115.6 222.8,1117.2 C224.4,1118.8 238.8,1118.7 242.0,1119.0 C245.2,1119.3 260.0,1121.8 261.6,1120.4 C263.2,1119.0 261.5,1105.0 261.4,1102.0 C261.3,1099.0 260.9,1086.4 260.8,1085.0"/>
  <path d="M232.2,1091.0 C232.6,1092.2 233.6,1095.4 234.4,1098.0 C235.2,1100.6 236.7,1105.3 237.2,1106.8"/>
  <path d="M240.8,1100.4 C242.0,1100.3 245.5,1100.0 248.0,1099.8 C250.5,1099.6 254.3,1099.5 255.6,1099.4"/>
</svg>

</div>
</body>
</html>
